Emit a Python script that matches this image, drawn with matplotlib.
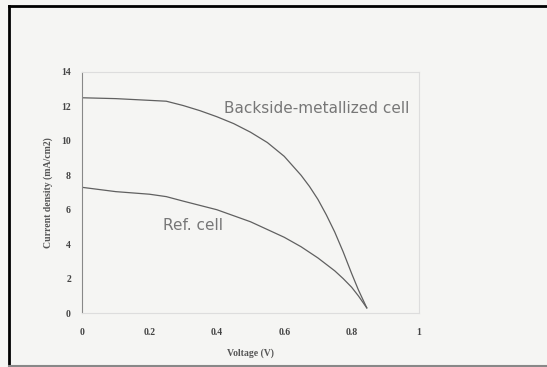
import matplotlib
matplotlib.use("Agg")
import matplotlib.pyplot as plt
from matplotlib.lines import Line2D

volt_bsm = [0.0, 0.1, 0.2, 0.25, 0.3, 0.35, 0.4, 0.45, 0.5, 0.55, 0.6, 0.65,
            0.675, 0.7, 0.725, 0.75, 0.775, 0.8, 0.82, 0.845]
curr_bsm = [12.5, 12.45, 12.35, 12.3, 12.05, 11.75, 11.4, 11.0, 10.5, 9.9, 9.1, 8.0,
            7.35, 6.6, 5.7, 4.7, 3.55, 2.3, 1.35, 0.3]

volt_ref = [0.0, 0.1, 0.2, 0.25, 0.3, 0.35, 0.4, 0.45, 0.5, 0.55, 0.6, 0.65,
            0.7, 0.75, 0.775, 0.8, 0.82, 0.845]
curr_ref = [7.3, 7.05, 6.9, 6.76, 6.5, 6.25, 6.0, 5.65, 5.3, 4.85, 4.4, 3.85,
            3.2, 2.45, 2.0, 1.5, 1.0, 0.3]

x_ticks = [0, 0.2, 0.4, 0.6, 0.8, 1]
x_labels = ["0", "0.2", "0.4", "0.6", "0.8", "1"]
y_ticks = [0, 2, 4, 6, 8, 10, 12, 14]

bg = "#f5f5f3"
fig = plt.figure(figsize=(5.47, 3.67), dpi=100, facecolor=bg)
ax = fig.add_axes([0.150, 0.147, 0.616, 0.657], facecolor=bg)

ax.plot(volt_bsm, curr_bsm, color="#606060", linewidth=0.9)
ax.plot(volt_ref, curr_ref, color="#606060", linewidth=0.9)

ax.text(0.42, 11.9, "Backside-metallized cell", fontsize=11, color="#777777",
        family="DejaVu Sans", va="center", ha="left")
ax.text(0.24, 5.1, "Ref. cell", fontsize=11, color="#777777",
        family="DejaVu Sans", va="center", ha="left")

ax.set_xlim(0, 1)
ax.set_ylim(0, 14)
ax.set_xticks(x_ticks)
ax.set_xticklabels(x_labels)
ax.set_yticks(y_ticks)
ax.tick_params(axis="y", length=0, labelsize=7, labelcolor="#444444", pad=8)
ax.tick_params(axis="x", length=0, labelsize=7, labelcolor="#444444", pad=11)
for lab in ax.get_xticklabels() + ax.get_yticklabels():
    lab.set_family("Liberation Serif")
    lab.set_fontweight("bold")

ax.set_xlabel("Voltage (V)", family="Liberation Serif", fontsize=7,
              fontweight="bold", color="#555555", labelpad=8)
ax.set_ylabel("Current density (mA/cm2)", family="Liberation Serif", fontsize=7,
              fontweight="bold", color="#555555", labelpad=6)

ax.spines["left"].set_color("#888888")
ax.spines["left"].set_linewidth(0.8)
for side in ["top", "right", "bottom"]:
    ax.spines[side].set_color("#dddddd")
    ax.spines[side].set_linewidth(0.8)

# scan border: black top/left, gray bottom
W, H = 547.0, 367.0
fig.add_artist(Line2D([9 / W, 1], [1 - 6 / H, 1 - 6 / H], color="black", linewidth=2,
                      transform=fig.transFigure))
fig.add_artist(Line2D([9 / W, 9 / W], [1 - 6 / H, 1 - 366 / H], color="black", linewidth=2,
                      transform=fig.transFigure))
fig.add_artist(Line2D([9 / W, 1], [1 - 365.5 / H, 1 - 365.5 / H], color="#888888", linewidth=1.5,
                      transform=fig.transFigure))

fig.savefig("out.png", dpi=100, facecolor=bg)
